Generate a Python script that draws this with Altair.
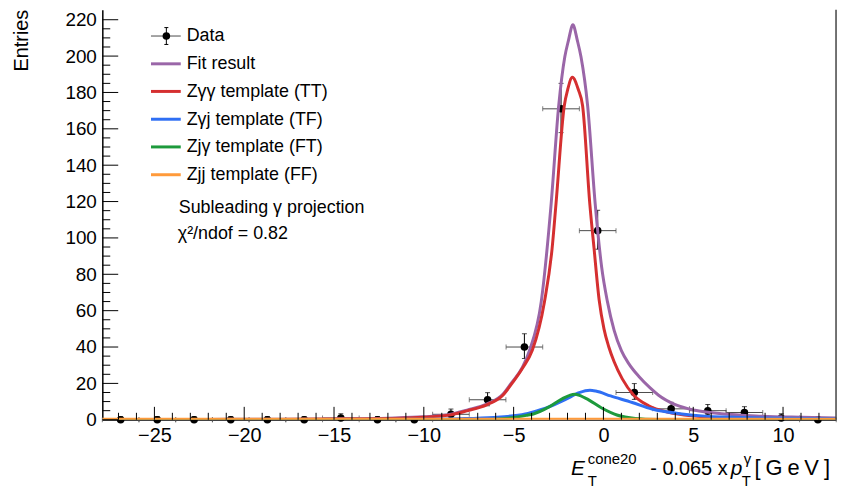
import altair as alt
import pandas as pd

FONT = "Liberation Sans"

# ---------------- data ----------------
bin_centers = [-26.88, -24.84, -22.79, -20.75, -18.71, -16.66, -14.62, -12.58, -10.53, -8.49,
               -6.45, -4.40, -2.36, -0.32, 1.72, 3.77, 5.81, 7.85, 9.90, 11.94]
bin_half_width = 1.02
counts = [0, 0, 0, 0, 0, 0, 1, 0, 0, 3, 11, 40, 171, 104, 15, 6, 5, 4, 1, 0]
err_hi = [1.8, 1.8, 1.8, 1.8, 1.8, 1.8, 2.3, 1.8, 1.8, 2.9, 3.9, 7.3, 14.0, 11.2, 4.9, 3.6, 3.4, 3.2, 2.3, 1.8]
err_lo = [0, 0, 0, 0, 0, 0, 0.8, 0, 0, 1.6, 3.3, 6.3, 13.1, 10.2, 3.8, 2.4, 2.2, 1.9, 0.8, 0]

fit_x = [-27.9, -22, -18, -15, -12, -10, -8.5, -7.6, -6.5, -5.6, -5.12, -4.5, -4.11, -3.46, -2.91,
         -2.49, -2.15, -1.95, -1.70, -1.45, -1.25, -0.88, -0.46, -0.1, 0.22, 0.6, 1.0, 1.4, 2.0,
         2.6, 3.07, 4.0, 5.1, 6.57, 8.8, 11.0, 12.95]
fit_y = [0.1, 0.2, 0.3, 0.5, 0.9, 1.6, 3.0, 5.3, 8.6, 14.0, 20.3, 29.0, 38.2, 65.1, 118.9,
         172.7, 199.6, 208.5, 217.2, 208.5, 199.6, 172.7, 118.9, 84.0, 65.1, 49.0, 38.0, 31.0, 23.5,
         17.5, 13.5, 8.3, 5.2, 3.3, 2.0, 1.4, 1.0]

tt_x = [-27.9, -22, -18, -15, -12, -10, -8.5, -7.6, -6.5, -5.6, -5.07, -4.5, -3.96, -3.28, -2.86,
        -2.64, -2.18, -1.99, -1.73, -1.40, -1.16, -0.76, -0.52, -0.24, 0.03, 0.3, 0.59, 1.05, 1.69,
        2.52, 3.62, 5.1, 7.0, 9.5, 12.95]
tt_y = [0.05, 0.1, 0.2, 0.35, 0.7, 1.4, 2.7, 4.9, 8.2, 13.5, 20.3, 28.5, 38.2, 65.1, 94.0,
        118.9, 172.7, 181.6, 188.3, 181.6, 172.7, 118.9, 94.0, 66.0, 50.0, 40.0, 32.0, 22.5, 13.5,
        7.7, 4.1, 2.0, 1.0, 0.5, 0.3]

tf_x = [-27.9, -15, -10, -8, -6.1, -5.0, -4.2, -3.5, -3.0, -2.08, -1.35, -0.75, -0.43, 0.40, 1.6,
        2.7, 4.36, 5.65, 6.9, 9.0, 12.95]
tf_y = [0.05, 0.1, 0.3, 0.6, 1.3, 2.2, 3.5, 5.5, 7.2, 11.3, 14.9, 16.2, 15.8, 13.1, 9.5,
        5.9, 3.2, 2.0, 1.5, 1.0, 0.6]

ft_x = [-27.9, -8.0, -6.0, -5.0, -4.3, -3.9, -3.0, -2.3, -1.6, -0.98, -0.1, 0.75, 1.78, 3.0, 5.0, 12.95]
ft_y = [0.0, 0.0, 0.3, 1.2, 2.4, 3.2, 7.2, 11.5, 14.0, 11.8, 6.5, 2.6, 0.7, 0.15, 0.0, 0.0]

ff_x = [-27.9, -10.0, 0.0, 10.0, 12.95]
ff_y = [0.3, 0.3, 0.3, 0.3, 0.3]

legend_labels = ["Fit result", "Zγγ template (TT)", "Zγj template (TF)", "Zjγ template (FT)", "Zjj template (FF)"]
legend_colors = ["#9a66a8", "#d52f30", "#2f6ff4", "#1d9a3c", "#ff9a3a"]

x_major = [-25, -20, -15, -10, -5, 0, 5, 10]
x_minor = [v for v in range(-27, 13) if v % 5 != 0]
y_major = [0, 20, 40, 60, 80, 100, 120, 140, 160, 180, 200, 220]
y_minor = [v for v in range(0, 223, 5) if v % 20 != 0]

X_DOMAIN = [-27.9, 12.95]
Y_DOMAIN = [0, 225.5]
W, H = 739, 413

# ---------------- helpers ----------------
xscale = alt.Scale(domain=X_DOMAIN, nice=False, zero=False)
yscale = alt.Scale(domain=Y_DOMAIN, nice=False, zero=False)
xaxis = alt.Axis(values=x_major, tickSize=0, labelFontSize=20, labelFont=FONT, labelColor="black",
                 labelPadding=6, domainColor="black", domainWidth=1, grid=False, title=None,
                 labelFlush=False, labelOverlap=False)
yaxis = alt.Axis(values=y_major, tickSize=0, labelFontSize=19, labelFont=FONT, labelColor="black",
                 labelPadding=6, domainColor="black", domainWidth=1.5, grid=False, title=None,
                 labelOverlap=False)


def X(f):
    return alt.X(f"{f}:Q", scale=xscale, axis=xaxis)


def Y(f):
    return alt.Y(f"{f}:Q", scale=yscale, axis=yaxis)


# ---------------- data points ----------------
pts = pd.DataFrame({"x": bin_centers, "y": counts, "eh": err_hi, "el": err_lo})
pts["xl"] = pts["x"] - bin_half_width
pts["xr"] = pts["x"] + bin_half_width
pts["lo"] = pts["y"] - pts["el"]
pts["hi"] = pts["y"] + pts["eh"]

base = alt.Chart(pts)
hbar = base.mark_rule(color="#4a4a4a", strokeWidth=1).encode(x=X("xl"), x2="xr", y=Y("y"))
hcapl = base.mark_tick(orient="vertical", size=5, thickness=1, color="#4a4a4a").encode(x=X("xl"), y=Y("y"))
hcapr = base.mark_tick(orient="vertical", size=5, thickness=1, color="#4a4a4a").encode(x=X("xr"), y=Y("y"))
vbar = base.mark_rule(color="black", strokeWidth=1).encode(x=X("x"), y=Y("lo"), y2="hi")
vcapt = base.mark_tick(orient="horizontal", size=5, thickness=1, color="black").encode(x=X("x"), y=Y("hi"))
vcapb = base.mark_tick(orient="horizontal", size=5, thickness=1, color="black").encode(x=X("x"), y=Y("lo"))
dots = base.mark_circle(size=58, color="black", opacity=1).encode(x=X("x"), y=Y("y"))


def curve(xs, ys, color):
    df = pd.DataFrame({"x": xs, "y": ys})
    return alt.Chart(df).mark_line(color=color, strokeWidth=3, interpolate="monotone", clip=True).encode(
        x=X("x"), y=Y("y"))


c_fit = curve(fit_x, fit_y, legend_colors[0])
c_tt = curve(tt_x, tt_y, legend_colors[1])
c_tf = curve(tf_x, tf_y, legend_colors[2])
c_ft = curve(ft_x, ft_y, legend_colors[3])
c_ff = curve(ff_x, ff_y, legend_colors[4])

# ---------------- inward ticks (ROOT style) ----------------
xt_major = alt.Chart(pd.DataFrame({"t": x_major})).mark_rule(color="black", strokeWidth=1).encode(
    x=X("t"), y=alt.value(H), y2=alt.value(H - 13))
xt_minor = alt.Chart(pd.DataFrame({"t": x_minor})).mark_rule(color="black", strokeWidth=1).encode(
    x=X("t"), y=alt.value(H), y2=alt.value(H - 7))
yt_major = alt.Chart(pd.DataFrame({"t": y_major})).mark_rule(color="black", strokeWidth=1).encode(
    y=Y("t"), x=alt.value(0), x2=alt.value(16))
yt_minor = alt.Chart(pd.DataFrame({"t": y_minor})).mark_rule(color="black", strokeWidth=1).encode(
    y=Y("t"), x=alt.value(0), x2=alt.value(8))

frame_r = alt.Chart(pd.DataFrame({"a": [0]})).mark_rule(color="#444444", strokeWidth=1.5).encode(
    x=alt.value(W), y=alt.value(0), y2=alt.value(H))

# ---------------- legend ----------------
layers_leg = []
one = pd.DataFrame({"a": [0]})
# Data entry
layers_leg.append(alt.Chart(one).mark_rule(color="#4a4a4a", strokeWidth=1).encode(
    x=alt.value(49), x2=alt.value(79), y=alt.value(26.5)))
layers_leg.append(alt.Chart(one).mark_rule(color="black", strokeWidth=1).encode(
    x=alt.value(64.5), y=alt.value(18), y2=alt.value(35)))
layers_leg.append(alt.Chart(one).mark_rule(color="black", strokeWidth=1).encode(
    x=alt.value(62.5), x2=alt.value(66.5), y=alt.value(18)))
layers_leg.append(alt.Chart(one).mark_rule(color="black", strokeWidth=1).encode(
    x=alt.value(62.5), x2=alt.value(66.5), y=alt.value(35)))
layers_leg.append(alt.Chart(one).mark_point(filled=True, size=58, color="black", opacity=1, shape="circle").encode(
    x=alt.value(64.5), y=alt.value(26.5)))
layers_leg.append(alt.Chart(pd.DataFrame({"t": ["Data"]})).mark_text(
    font=FONT, fontSize=18, align="left", baseline="middle", color="black").encode(
    x=alt.value(85), y=alt.value(27), text="t:N"))

row_y = [54.5, 82.3, 110.3, 138.2, 166.2]
for lab, col, ry in zip(legend_labels, legend_colors, row_y):
    layers_leg.append(alt.Chart(one).mark_rule(color=col, strokeWidth=3).encode(
        x=alt.value(49), x2=alt.value(79), y=alt.value(ry)))
    layers_leg.append(alt.Chart(pd.DataFrame({"t": [lab]})).mark_text(
        font=FONT, fontSize=18, align="left", baseline="middle", color="black").encode(
        x=alt.value(85), y=alt.value(ry + 0.5), text="t:N"))

# annotations
layers_leg.append(alt.Chart(pd.DataFrame({"t": ["Subleading γ projection"]})).mark_text(
    font=FONT, fontSize=18, align="left", baseline="alphabetic", color="black").encode(
    x=alt.value(77), y=alt.value(205), text="t:N"))
layers_leg.append(alt.Chart(pd.DataFrame({"t": ["χ²/ndof = 0.82"]})).mark_text(
    font=FONT, fontSize=18, align="left", baseline="alphabetic", color="black").encode(
    x=alt.value(76), y=alt.value(231), text="t:N"))


# ---------------- axis titles ----------------
def txt(s, x, y, size, style="normal", align="left", angle=0):
    return alt.Chart(pd.DataFrame({"t": [s]})).mark_text(
        font=FONT, fontSize=size, fontStyle=style, align=align, baseline="alphabetic",
        color="black", angle=angle).encode(x=alt.value(x), y=alt.value(y), text="t:N")


titles = [
    txt("Entries", -75, 0, 20, align="right", angle=270),
    txt("E", 472, 468.5, 21, style="italic"),
    txt("T", 489, 479.5, 15),
    txt("cone20", 489, 458, 15),
    txt("- 0.065 x", 552, 468.5, 20),
    txt("p", 633, 468.5, 21, style="italic"),
    txt("γ", 646, 458, 15),
    txt("T", 644, 479.5, 15),
    # "[GeV]" spans the right end of the title in the reference (wide TLatex spacing)
    txt("[", 657, 468.5, 22),
    txt("G", 668, 468.5, 22),
    txt("e", 690, 468.5, 22),
    txt("V", 707, 468.5, 22),
    txt("]", 727, 468.5, 22),
]

chart = alt.layer(
    hbar, hcapl, hcapr, vbar, vcapt, vcapb, dots,
    c_fit, c_tt, c_tf, c_ft, c_ff,
    xt_major, xt_minor, yt_major, yt_minor, frame_r,
    *layers_leg, *titles,
).properties(
    width=W, height=H,
    padding={"left": 95, "top": 0, "right": 4, "bottom": 67},
    autosize=alt.AutoSizeParams(type="none"),
    background="white",
).configure_view(stroke=None)

chart.save("out.html", embed_options={"renderer": "svg", "actions": False})
